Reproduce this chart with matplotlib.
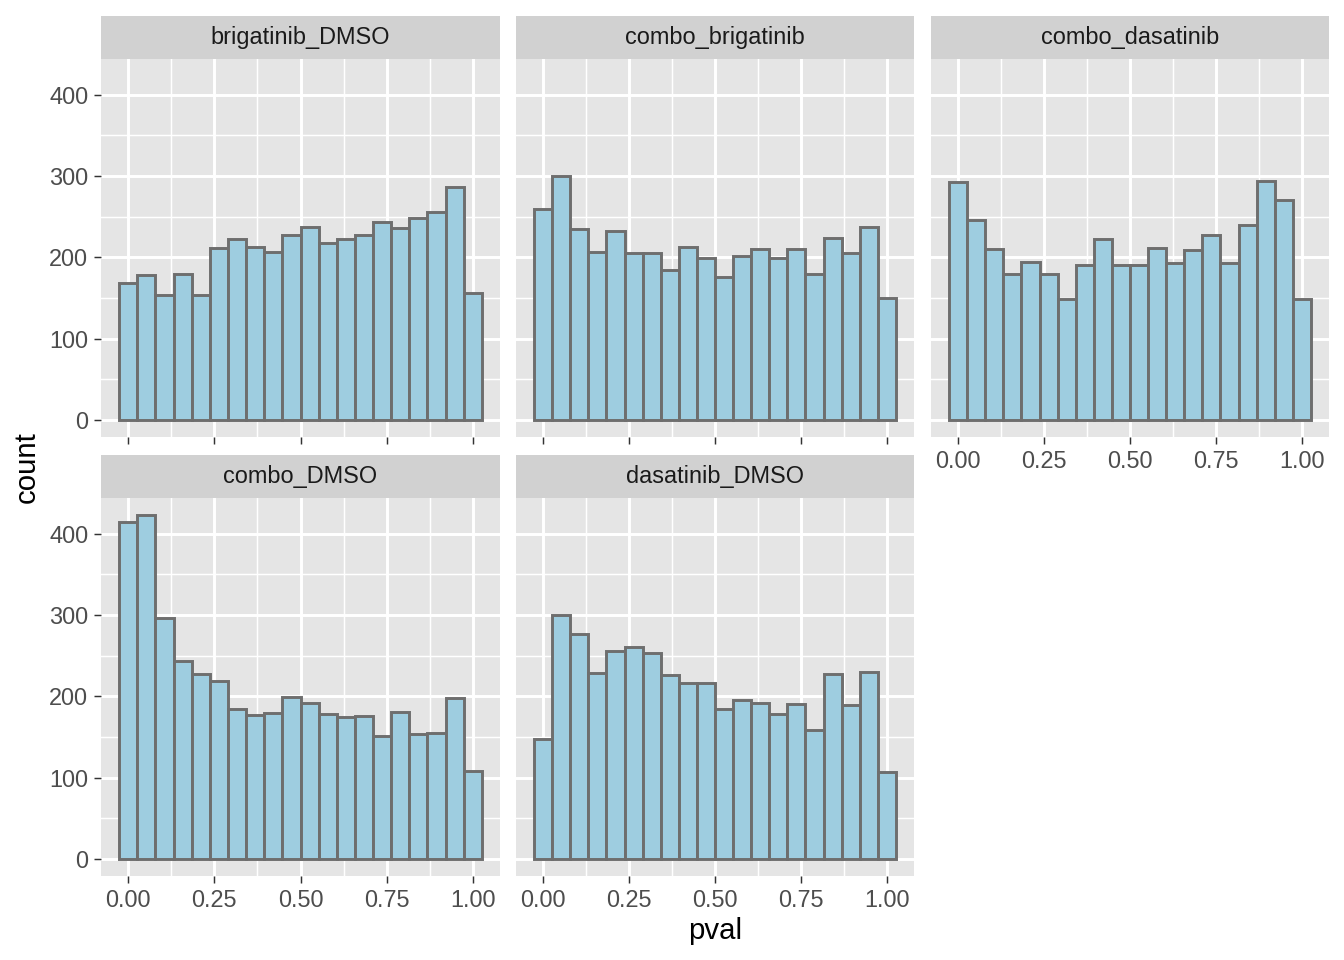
import numpy as np
import matplotlib
matplotlib.use("Agg")
import matplotlib.pyplot as plt

plt.rcParams['font.family'] = ['Liberation Sans', 'DejaVu Sans']

# facet names and histogram counts (20 bins over pval 0..1)
groups = ["brigatinib_DMSO", "combo_brigatinib", "combo_dasatinib", "combo_DMSO", "dasatinib_DMSO"]
counts = {
    "brigatinib_DMSO": [169, 178, 154, 179, 154, 212, 222, 213, 207, 227,
                        237, 218, 222, 227, 243, 236, 249, 256, 286, 156],
    "combo_brigatinib": [260, 300, 235, 206, 233, 205, 205, 184, 213, 199,
                         176, 202, 210, 199, 210, 180, 224, 205, 237, 150],
    "combo_dasatinib": [293, 246, 210, 179, 194, 180, 149, 190, 222, 190,
                        191, 211, 193, 209, 228, 193, 240, 294, 270, 149],
    "combo_DMSO": [415, 423, 297, 244, 228, 219, 185, 177, 180, 199,
                   192, 178, 175, 176, 151, 181, 154, 155, 198, 108],
    "dasatinib_DMSO": [147, 300, 277, 229, 256, 261, 253, 226, 216, 216,
                       185, 195, 192, 178, 190, 158, 227, 189, 230, 107],
}
nbins = 20
bin_w = 1.0 / (nbins - 1)
centers = np.arange(nbins) * bin_w

x_ticks = [0, 0.25, 0.5, 0.75, 1.0]
x_labels = ["0.00", "0.25", "0.50", "0.75", "1.00"]
y_ticks = [0, 100, 200, 300, 400]

W, H = 1344, 960
fig = plt.figure(figsize=(7, 5), dpi=192)

def frac(x0, y0, x1, y1):
    return [x0 / W, 1 - y1 / H, (x1 - x0) / W, (y1 - y0) / H]

cols = [(101, 500), (516, 914), (931, 1329)]
rows = [(59, 437), (498, 876)]
strip_h = 43

ymax = max(max(v) for v in counts.values())
xlim = (-bin_w / 2 - 0.05 * (1 + bin_w), 1 + bin_w / 2 + 0.05 * (1 + bin_w))
ylim = (-0.05 * ymax, 1.05 * ymax)

for i, g in enumerate(groups):
    r, c = divmod(i, 3)
    x0, x1 = cols[c]
    y0, y1 = rows[r]
    ax = fig.add_axes(frac(x0, y0, x1, y1))
    ax.set_facecolor("#E5E5E5")
    ax.set_xlim(*xlim)
    ax.set_ylim(*ylim)
    for m in [0.125, 0.375, 0.625, 0.875]:
        ax.axvline(m, color="white", lw=0.55, zorder=0)
    for m in [50, 150, 250, 350]:
        ax.axhline(m, color="white", lw=0.55, zorder=0)
    for t in x_ticks:
        ax.axvline(t, color="white", lw=1.1, zorder=0)
    for t in y_ticks:
        ax.axhline(t, color="white", lw=1.1, zorder=0)
    ax.bar(centers, counts[g], width=bin_w, color="#9ECDE0",
           edgecolor="#6E6E6E", linewidth=1.1, zorder=2)
    for s in ax.spines.values():
        s.set_visible(False)
    ax.set_xticks(x_ticks)
    ax.set_yticks(y_ticks)
    ax.tick_params(length=2.75, width=0.55, color="#333333",
                   labelsize=8.8, labelcolor="#4D4D4D", pad=2)
    # x labels only on bottom-most panel of each column
    if r == 1 or c == 2:
        ax.set_xticklabels(x_labels)
    else:
        ax.set_xticklabels([])
    if c == 0:
        ax.set_yticklabels([str(t) for t in y_ticks])
    else:
        ax.set_yticklabels([])
        ax.tick_params(axis="y", length=0)

    sax = fig.add_axes(frac(x0, y0 - strip_h, x1, y0))
    sax.set_facecolor("#D1D1D1")
    sax.set_xticks([])
    sax.set_yticks([])
    for s in sax.spines.values():
        s.set_visible(False)
    sax.text(0.5, 0.5, g, ha="center", va="center", fontsize=8.8,
             color="#1A1A1A", transform=sax.transAxes)

fig.text(715 / W, 1 - 931 / H, "pval", ha="center", va="center", fontsize=11)
fig.text(27 / W, 1 - 467 / H, "count", ha="center", va="center",
         rotation=90, fontsize=11)

fig.savefig("out.png", dpi=192, facecolor="white")
